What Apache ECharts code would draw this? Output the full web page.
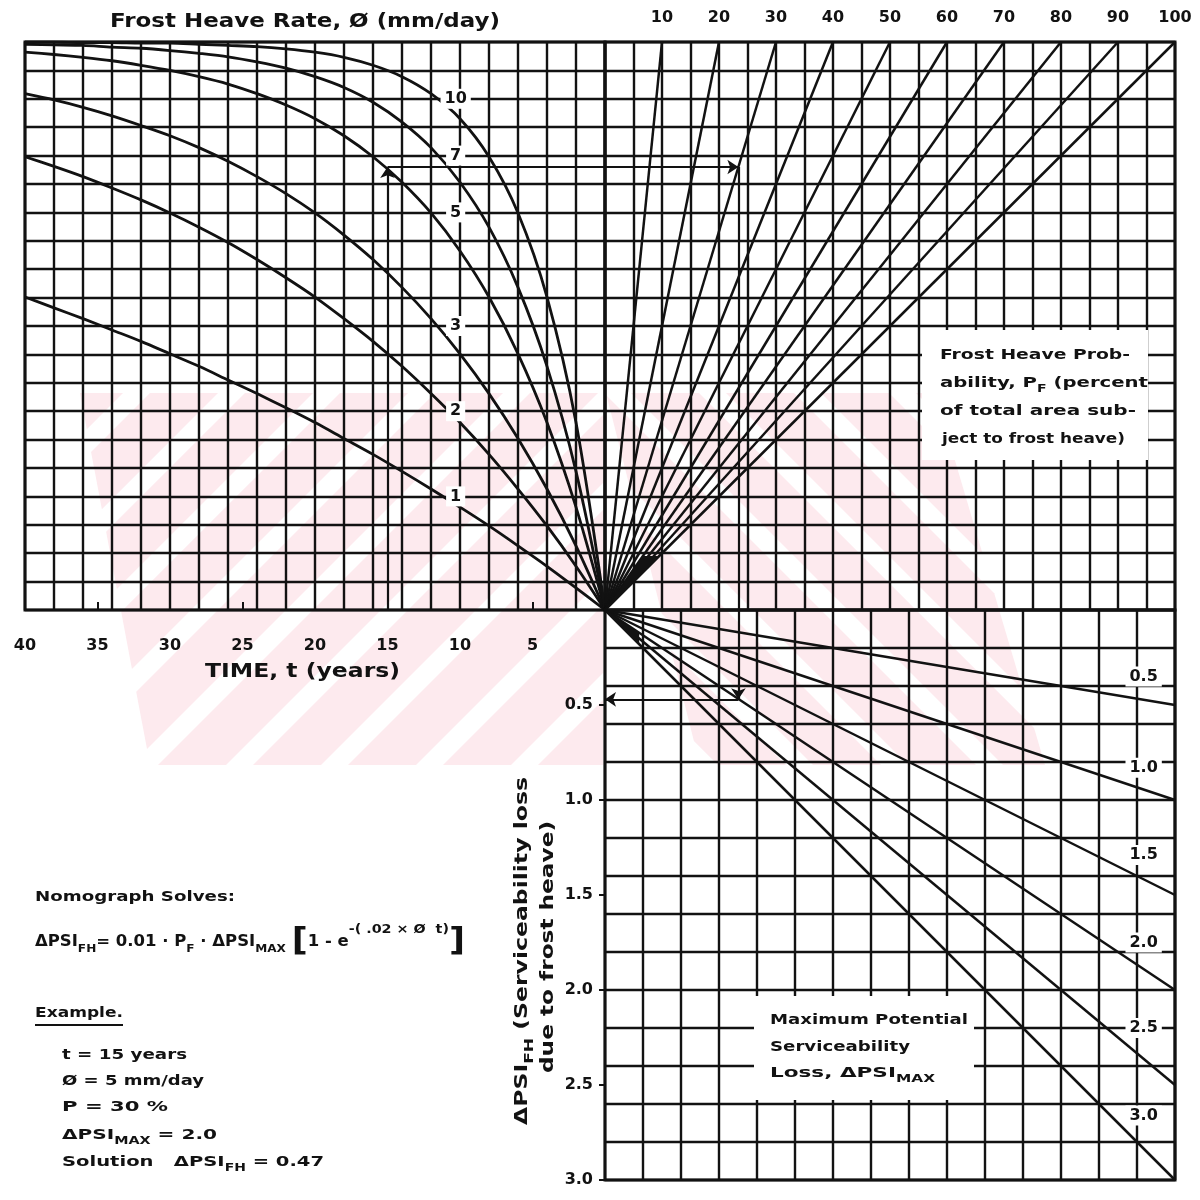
<!DOCTYPE html>
<html>
<head>
<meta charset="utf-8">
<title>Frost heave serviceability loss nomograph</title>
<script src="https://cdn.jsdelivr.net/npm/echarts@6/dist/echarts.min.js"></script>
<style>
  html, body { margin: 0; padding: 0; background: #fff; }
  #chart { width: 1200px; height: 1200px; }
</style>
</head>
<body>
<div id="chart"></div>
<script>
// ---- data -------------------------------------------------------------
// Time (years) at which the frost-heave curves are read
const years = [0, 2, 4, 6, 8, 10, 12, 14, 16, 18, 20, 22, 24, 26, 28, 30, 32, 34, 36, 38, 40];
// Frost heave rate, mm/day (one curve each)
const heaveRates = [1, 2, 3, 5, 7, 10];
// Share of the ultimate loss reached after t years, per heave rate
const lossRate1  = [0, 0.039, 0.077, 0.113, 0.148, 0.181, 0.213, 0.244, 0.274, 0.302, 0.330, 0.356, 0.381, 0.405, 0.429, 0.451, 0.473, 0.493, 0.513, 0.532, 0.551];
const lossRate2  = [0, 0.077, 0.148, 0.213, 0.274, 0.330, 0.381, 0.429, 0.473, 0.513, 0.551, 0.585, 0.617, 0.647, 0.674, 0.699, 0.722, 0.743, 0.763, 0.781, 0.798];
const lossRate3  = [0, 0.113, 0.213, 0.302, 0.381, 0.451, 0.513, 0.568, 0.617, 0.660, 0.699, 0.733, 0.763, 0.790, 0.814, 0.835, 0.853, 0.870, 0.885, 0.898, 0.909];
const lossRate5  = [0, 0.181, 0.330, 0.451, 0.551, 0.632, 0.699, 0.753, 0.798, 0.835, 0.865, 0.889, 0.909, 0.926, 0.939, 0.950, 0.959, 0.967, 0.973, 0.978, 0.982];
const lossRate7  = [0, 0.244, 0.429, 0.568, 0.674, 0.753, 0.814, 0.859, 0.894, 0.920, 0.939, 0.954, 0.965, 0.974, 0.980, 0.985, 0.989, 0.991, 0.994, 0.995, 0.996];
const lossRate10 = [0, 0.330, 0.551, 0.699, 0.798, 0.865, 0.909, 0.939, 0.959, 0.973, 0.982, 0.988, 0.992, 0.994, 0.996, 0.998, 0.998, 0.999, 0.999, 1.000, 1.000];
const lossCurves = [lossRate1, lossRate2, lossRate3, lossRate5, lossRate7, lossRate10];
// Frost heave probability P_F, percent of area
const probabilities = [10, 20, 30, 40, 50, 60, 70, 80, 90, 100];
// Maximum potential serviceability loss
const maxLosses = [0.5, 1.0, 1.5, 2.0, 2.5, 3.0];
// Worked example
const exampleYears = 15;
const exampleRate = 5;
const exampleProbability = 30;
const exampleMaxLoss = 2.0;
const exampleShare = 0.78;      // read on the 5 mm/day curve at 15 years
const exampleSolution = 0.47;

// ---- styling ----------------------------------------------------------
const INK = '#121212';
const FONT = "'DejaVu Sans', 'Noto Sans', sans-serif";
const gridLine = { show: true, lineStyle: { color: INK, width: 2.4 } };
const hidden = { show: false };

const measureCtx = document.createElement('canvas').getContext('2d');
function measure(str, font) { measureCtx.font = font; return measureCtx.measureText(str).width; }

// One line of lettering; parts may be plain strings or [text, 'sub'|'sup'|'big']
function textLine(x, y, parts, size, width, extra) {
  const children = [];
  let cx = 0;
  parts.forEach(p => {
    const [t, kind] = typeof p === 'string' ? [p, null] : p;
    const s = kind === 'sub' ? Math.round(size * 0.72)
            : kind === 'sup' ? Math.round(size * 0.88)
            : kind === 'big' ? Math.round(size * 2.1) : size;
    const dy = kind === 'sub' ? size * 0.45 : kind === 'sup' ? -size * 0.85 : 0;
    const font = `bold ${s}px ${FONT}`;
    children.push({
      type: 'text', x: cx, y: dy, z: 40, silent: true,
      style: { text: t, font: font, fill: INK, textAlign: 'left', align: 'left',
               textVerticalAlign: 'middle', verticalAlign: 'middle' }
    });
    cx += measure(t, font);
  });
  return Object.assign({ type: 'group', x: x, y: y, scaleX: width ? width / cx : 1, children: children, z: 40 }, extra || {});
}

// Clip a polygon against a convex polygon listed clockwise on screen
function clipPolygon(subject, clip) {
  let out = subject;
  for (let i = 0; i < clip.length && out.length; i++) {
    const a = clip[i], b = clip[(i + 1) % clip.length];
    const side = p => (b[0] - a[0]) * (p[1] - a[1]) - (b[1] - a[1]) * (p[0] - a[0]);
    const input = out; out = [];
    for (let j = 0; j < input.length; j++) {
      const p = input[j], q = input[(j + 1) % input.length];
      const sp = side(p), sq = side(q);
      if (sp >= 0) out.push(p);
      if ((sp >= 0) !== (sq >= 0)) {
        const t = sp / (sp - sq);
        out.push([p[0] + t * (q[0] - p[0]), p[1] + t * (q[1] - p[1])]);
      }
    }
  }
  return out;
}

// Faint diagonal pink banding behind the grid
function banding(shape, dir, phase, period, width) {
  const xs = shape.map(p => p[0]), ys = shape.map(p => p[1]);
  const x0 = Math.min(...xs), x1 = Math.max(...xs), y0 = Math.min(...ys), y1 = Math.max(...ys);
  const out = [];
  const cMin = dir === '/' ? x0 + y0 - period : x0 - y1 - period;
  const cMax = dir === '/' ? x1 + y1 : x1 - y0;
  for (let c = phase + period * Math.floor((cMin - phase) / period); c <= cMax; c += period) {
    const quad = dir === '/'
      ? [[c - y0, y0], [c + width - y0, y0], [c + width - y1, y1], [c - y1, y1]]
      : [[c + y0, y0], [c + width + y0, y0], [c + width + y1, y1], [c + y1, y1]];
    const pts = clipPolygon(quad, shape);
    if (pts.length > 2) out.push({ type: 'polygon', shape: { points: pts }, style: { fill: '#fdeaee' }, z: -10, silent: true });
  }
  return out;
}

const pinkBands = [
  ...banding([[80, 393], [603, 393], [603, 765], [150, 765]], '/', 1018, 95, 68),
  ...banding([[606, 393], [935, 393], [1045, 765], [700, 765]], '\\', 428, 95, 68)
];

// ---- series -----------------------------------------------------------
const series = [];

// frost heave rate curves (time vs. share of ultimate loss)
heaveRates.forEach((rate, i) => {
  series.push({
    type: 'line', name: rate + ' mm/day', xAxisIndex: 0, yAxisIndex: 0,
    data: years.map((t, j) => [t, lossCurves[i][j]]),
    smooth: 0.3, showSymbol: false, symbol: 'none', silent: true,
    lineStyle: { color: INK, width: 2.8 }, z: 3
  });
});

const labelStyle = {
  show: true, position: 'inside', formatter: '{b}', color: INK, opacity: 1, fontFamily: FONT,
  fontWeight: 'bold', fontSize: 16, backgroundColor: '#ffffff', padding: [2, 4]
};

// rate labels stacked along the 10-year column
const rateLabelLevels = [0.2, 0.35, 0.5, 0.7, 0.8, 0.9];
series.push({
  type: 'scatter', xAxisIndex: 0, yAxisIndex: 0, symbolSize: 0, silent: true, z: 6,
  itemStyle: { opacity: 1 },
  data: heaveRates.map((r, i) => ({ name: String(r), value: [10.3, rateLabelLevels[i]] })),
  label: labelStyle
});

// probability rays (top right)
probabilities.forEach(p => {
  series.push({
    type: 'line', name: 'P ' + p, xAxisIndex: 2, yAxisIndex: 1,
    data: [[0, 0], [p, 1]], showSymbol: false, symbol: 'none', silent: true,
    lineStyle: { color: INK, width: 2.5 }, z: 3
  });
});

// maximum loss rays (bottom right)
maxLosses.forEach(m => {
  series.push({
    type: 'line', name: 'max ' + m, xAxisIndex: 4, yAxisIndex: 2,
    data: [[0, 0], [1, m]], showSymbol: false, symbol: 'none', silent: true,
    lineStyle: { color: INK, width: 2.5 }, z: 3
  });
});

// labels for the maximum loss rays near the right edge
const maxLabelLevels = [0.35, 0.83, 1.29, 1.75, 2.2, 2.66];
series.push({
  type: 'scatter', xAxisIndex: 4, yAxisIndex: 2, symbolSize: 0, silent: true, z: 6,
  itemStyle: { opacity: 1 },
  data: maxLosses.map((m, i) => ({ name: m.toFixed(1), value: [0.945, maxLabelLevels[i]] })),
  label: labelStyle
});

// ink build-up where the rays meet
series.push({
  type: 'custom', xAxisIndex: 2, yAxisIndex: 1, data: [0], silent: true, z: 4,
  renderItem: (params, api) => {
    const f = 0.095;
    return { type: 'polygon', shape: { points: [api.coord([0, 0]), api.coord([probabilities[6] * f, f]), api.coord([probabilities[9] * f, f])] }, style: { fill: INK } };
  }
});
series.push({
  type: 'custom', xAxisIndex: 4, yAxisIndex: 2, data: [0], silent: true, z: 4,
  renderItem: (params, api) => {
    const x = 0.06;
    return { type: 'polygon', shape: { points: [api.coord([0, 0]), api.coord([x, maxLosses[3] * x]), api.coord([x, maxLosses[5] * x])] }, style: { fill: INK } };
  }
});

// worked example path
const exampleX = exampleProbability / 100 * exampleShare;
function pathSeries(xi, yi, coords, arrow) {
  return {
    type: 'lines', coordinateSystem: 'cartesian2d', xAxisIndex: xi, yAxisIndex: yi,
    symbol: arrow ? ['none', 'arrow'] : ['none', 'none'], symbolSize: 11, silent: true, z: 5,
    lineStyle: { color: INK, width: 2.2, opacity: 1, curveness: 0 },
    data: [{ coords: coords }]
  };
}
series.push(pathSeries(0, 0, [[exampleYears, 0], [exampleYears, exampleShare]], true));
series.push(pathSeries(0, 0, [[exampleYears, exampleShare], [0, exampleShare]], false));
series.push(pathSeries(2, 1, [[0, exampleShare], [exampleX * 100, exampleShare]], true));
series.push(pathSeries(2, 1, [[exampleX * 100, exampleShare], [exampleX * 100, 0]], false));
series.push(pathSeries(4, 2, [[exampleX, 0], [exampleX, exampleSolution]], true));
series.push(pathSeries(4, 2, [[exampleX, exampleSolution], [0, exampleSolution]], true));

// ---- lettering --------------------------------------------------------
const lettering = [
  // white panels for the notes laid over the grid
  { type: 'rect', shape: { x: 922, y: 330, width: 226, height: 130 }, style: { fill: '#fff' }, z: 20, silent: true },
  { type: 'rect', shape: { x: 754, y: 996, width: 220, height: 104 }, style: { fill: '#fff' }, z: 20, silent: true },

  textLine(110, 22, ['Frost Heave Rate, Ø (mm/day)'], 19, 390),
  textLine(205, 672, ['TIME, t (years)'], 19, 195),

  textLine(940, 355, ['Frost Heave Prob-'], 14, 190),
  textLine(940, 383, ['ability, P', ['F', 'sub'], ' (percent'], 14, 208),
  textLine(940, 411, ['of total area sub-'], 14, 196),
  textLine(942, 439, ['ject to frost heave)'], 14, 183),

  textLine(770, 1020, ['Maximum Potential'], 14, 198),
  textLine(770, 1047, ['Serviceability'], 14, 140),
  textLine(770, 1073, ['Loss, ΔPSI', ['MAX', 'sub']], 14, 165),

  textLine(522, 1125, ['ΔPSI', ['FH', 'sub'], ' (Serviceability loss'], 18, 348, { rotation: Math.PI / 2 }),
  textLine(548, 1073, ['due to frost heave)'], 18, 252, { rotation: Math.PI / 2 }),

  textLine(35, 897, ['Nomograph Solves:'], 14, 200),
  textLine(35, 942, ['ΔPSI', ['FH', 'sub'], '= 0.01 · P', ['F', 'sub'], ' · ΔPSI', ['MAX', 'sub'], ' ',
                     ['[', 'big'], '1 - e', ['-( .02 × Ø  t)', 'sup'], [']', 'big']], 15, 430),
  textLine(35, 1013, ['Example.'], 14, 88),
  { type: 'line', shape: { x1: 35, y1: 1025, x2: 123, y2: 1025 }, style: { stroke: INK, lineWidth: 2 }, z: 40, silent: true },
  textLine(62, 1055, ['t = ' + exampleYears + ' years'], 14, 125),
  textLine(62, 1081, ['Ø = ' + exampleRate + ' mm/day'], 14, 142),
  textLine(62, 1107, ['P = ' + exampleProbability + ' %'], 14, 106),
  textLine(62, 1135, ['ΔPSI', ['MAX', 'sub'], ' = ' + exampleMaxLoss.toFixed(1)], 14, 155),
  textLine(62, 1162, ['Solution   ΔPSI', ['FH', 'sub'], ' = ' + exampleSolution.toFixed(2)], 14, 262)
];

// ---- chart ------------------------------------------------------------
const labelFont = { color: INK, fontFamily: FONT, fontWeight: 'bold', fontSize: 16 };
const option = {
  animation: false,
  backgroundColor: '#fff',
  textStyle: { fontFamily: FONT },
  grid: [
    { left: 25, top: 42, width: 580, height: 568, show: true, borderColor: INK, borderWidth: 3, containLabel: false, outerBoundsMode: 'none' },
    { left: 605, top: 42, width: 570, height: 568, show: true, borderColor: INK, borderWidth: 3, containLabel: false, outerBoundsMode: 'none' },
    { left: 605, top: 610, width: 570, height: 570, show: true, borderColor: INK, borderWidth: 3, containLabel: false, outerBoundsMode: 'none' }
  ],
  xAxis: [
    { gridIndex: 0, type: 'value', min: 0, max: 40, interval: 2, inverse: true, position: 'bottom',
      splitLine: gridLine, axisLine: hidden, axisTick: hidden, axisLabel: hidden },
    { gridIndex: 0, type: 'value', min: 0, max: 40, interval: 5, inverse: true, position: 'bottom',
      splitLine: hidden, axisLine: hidden,
      axisTick: { show: true, inside: true, length: 8, lineStyle: { color: INK, width: 2 } },
      axisLabel: Object.assign({ show: true, margin: 28, formatter: v => v === 0 ? '' : String(v) }, labelFont) },
    { gridIndex: 1, type: 'value', min: 0, max: 100, interval: 5, position: 'top',
      splitLine: gridLine, axisLine: hidden, axisTick: hidden, axisLabel: hidden },
    { gridIndex: 1, type: 'value', min: 0, max: 100, interval: 10, position: 'top',
      splitLine: hidden, axisLine: hidden, axisTick: hidden,
      axisLabel: Object.assign({ show: true, margin: 16, formatter: v => v === 0 ? '' : String(v) }, labelFont) },
    { gridIndex: 2, type: 'value', min: 0, max: 1, interval: 1 / 15, position: 'top',
      splitLine: gridLine, axisLine: hidden, axisTick: hidden, axisLabel: hidden }
  ],
  yAxis: [
    { gridIndex: 0, type: 'value', min: 0, max: 1, interval: 0.05,
      splitLine: gridLine, axisLine: hidden, axisTick: hidden, axisLabel: hidden },
    { gridIndex: 1, type: 'value', min: 0, max: 1, interval: 0.05,
      splitLine: gridLine, axisLine: hidden, axisTick: hidden, axisLabel: hidden },
    { gridIndex: 2, type: 'value', min: 0, max: 3, interval: 0.2, inverse: true,
      splitLine: gridLine, axisLine: hidden, axisTick: hidden, axisLabel: hidden },
    { gridIndex: 2, type: 'value', min: 0, max: 3, interval: 0.5, inverse: true, position: 'left',
      splitLine: hidden, axisLine: hidden,
      axisTick: { show: true, length: 6, lineStyle: { color: INK, width: 2 } },
      axisLabel: Object.assign({ show: true, margin: 12, formatter: v => v === 0 ? '' : v.toFixed(1) }, labelFont) }
  ],
  series: series,
  graphic: [...pinkBands, ...lettering]
};

const chart = echarts.init(document.getElementById('chart'), null, { renderer: 'canvas' });
chart.setOption(option);
</script>
</body>
</html>
